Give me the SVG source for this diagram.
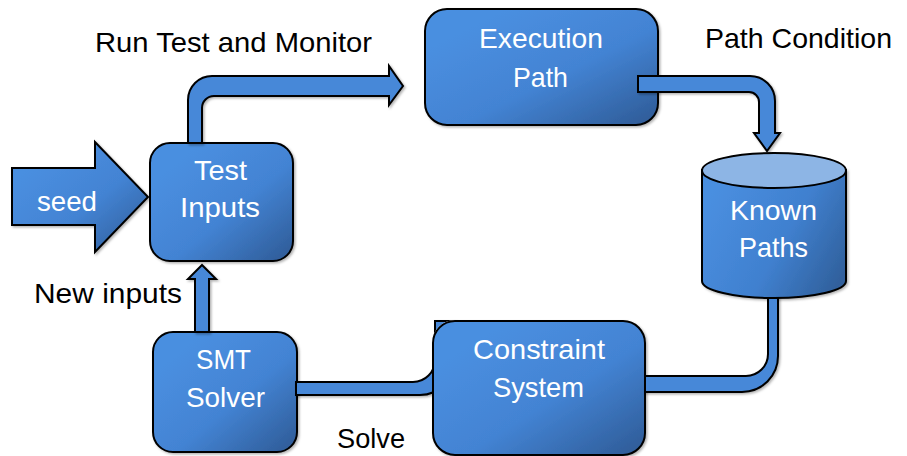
<svg xmlns="http://www.w3.org/2000/svg" width="907" height="456" viewBox="0 0 907 456">
  <style>
    .box { stroke: #000; stroke-width: 2; fill: url(#boxFill); filter: url(#shadow); }
    .conn { stroke: #000; stroke-width: 2; fill: #4788d8; stroke-linejoin: miter; filter: url(#shadow); }
    .label { font-family: "Liberation Sans", Arial, sans-serif; font-size: 28px; fill: #000; }
    .inner { font-family: "Liberation Sans", Arial, sans-serif; font-size: 28px; fill: #fff; }
  </style>
  <defs>
    <linearGradient id="boxFill" x1="0.15" y1="0.2" x2="0.95" y2="1">
      <stop offset="0" stop-color="#4a8fe0"/>
      <stop offset="0.5" stop-color="#4383d3"/>
      <stop offset="1" stop-color="#2f5c98"/>
    </linearGradient>
    <linearGradient id="cylFill" x1="0" y1="0.3" x2="1" y2="0.8">
      <stop offset="0" stop-color="#4a8fe0"/>
      <stop offset="0.55" stop-color="#4080cf"/>
      <stop offset="1" stop-color="#30609c"/>
    </linearGradient>
    <filter id="shadow" x="-10%" y="-10%" width="130%" height="130%">
      <feDropShadow dx="1.5" dy="1.5" stdDeviation="1" flood-color="#000" flood-opacity="0.3"/>
    </filter>
    <mask id="behindConstraint" maskUnits="userSpaceOnUse" x="0" y="0" width="907" height="456">
      <rect x="0" y="0" width="907" height="456" fill="#fff"/>
      <rect x="432" y="320" width="214" height="136" rx="23" fill="#000"/>
    </mask>
  </defs>

  <!-- nodes -->
  <g id="seed">
    <path d="M12,168 L95,168 L95,142 L148,197 L95,252 L95,225 L12,225 Z" fill="url(#boxFill)" stroke="#000" stroke-width="2" filter="url(#shadow)"/>
    <text class="inner" x="37" y="211" textLength="60" lengthAdjust="spacingAndGlyphs">seed</text>
  </g>

  <g id="test-inputs">
    <rect class="box" x="150" y="143" width="143" height="118" rx="20"/>
    <text class="inner" x="194" y="180" textLength="53" lengthAdjust="spacingAndGlyphs">Test</text>
    <text class="inner" x="180" y="217" textLength="80" lengthAdjust="spacingAndGlyphs">Inputs</text>
  </g>

  <g id="execution-path">
    <rect class="box" x="425" y="9" width="233" height="116" rx="22"/>
    <text class="inner" x="479" y="48" textLength="124" lengthAdjust="spacingAndGlyphs">Execution</text>
    <text class="inner" x="513" y="87" textLength="55" lengthAdjust="spacingAndGlyphs">Path</text>
  </g>

  <g id="known-paths">
    <path d="M702,170 L702,281 A72,17 0 0 0 846,281 L846,170 Z" fill="url(#cylFill)" stroke="#000" stroke-width="2" filter="url(#shadow)"/>
    <ellipse cx="774" cy="170.5" rx="72" ry="17.5" fill="#8db5e5" stroke="#000" stroke-width="2"/>
    <text class="inner" x="730" y="220" textLength="87" lengthAdjust="spacingAndGlyphs">Known</text>
    <text class="inner" x="739" y="257" textLength="69" lengthAdjust="spacingAndGlyphs">Paths</text>
  </g>

  <g id="constraint-system">
    <rect class="box" x="433" y="321" width="212" height="134" rx="22"/>
    <text class="inner" x="473" y="359" textLength="132" lengthAdjust="spacingAndGlyphs">Constraint</text>
    <text class="inner" x="493" y="397" textLength="91" lengthAdjust="spacingAndGlyphs">System</text>
  </g>

  <g id="smt-solver">
    <rect class="box" x="153" y="332" width="144" height="120" rx="20"/>
    <text class="inner" x="196" y="369" textLength="55" lengthAdjust="spacingAndGlyphs">SMT</text>
    <text class="inner" x="186" y="407" textLength="79" lengthAdjust="spacingAndGlyphs">Solver</text>
  </g>

  <!-- connectors -->
  <g id="connectors">
    <!-- Test Inputs -> Execution Path -->
    <path class="conn" d="M188,143 L188,100 A24,24 0 0 1 212,76 L389,76 L389,66 L403,86 L389,105 L389,96 L214,96 A12,12 0 0 0 202,108 L202,143 Z"/>
    <!-- Execution Path -> Known Paths -->
    <path class="conn" d="M638,76 L750,76 A25,25 0 0 1 775,101 L775,133 L780,133 L767,151 L754,133 L759,133 L759,102 A10,10 0 0 0 749,92 L638,92 Z"/>
    <!-- Known Paths -> Constraint System -->
    <path class="conn" d="M768,298 L778,298 L778,356 A36,36 0 0 1 742,392 L645,392 L645,376 L746,376 A22,22 0 0 0 768,354 Z"/>
    <!-- Constraint System <-> SMT Solver (runs behind the box) -->
    <path class="conn" mask="url(#behindConstraint)" d="M296,382 L413,382 A22,22 0 0 0 435,360 L435,321 L455,321 L455,360 A35,35 0 0 1 420,395 L296,395 Z"/>
    <!-- SMT Solver -> Test Inputs -->
    <path class="conn" d="M195,332 L195,279 L188,279 L202,265 L216,279 L209,279 L209,332 Z"/>
  </g>

  <!-- edge labels -->
  <g id="labels">
    <text class="label" x="95" y="52" textLength="277" lengthAdjust="spacingAndGlyphs">Run Test and Monitor</text>
    <text class="label" x="705" y="48" textLength="187" lengthAdjust="spacingAndGlyphs">Path Condition</text>
    <text class="label" x="34" y="303" textLength="148" lengthAdjust="spacingAndGlyphs">New inputs</text>
    <text class="label" x="337" y="448" textLength="68" lengthAdjust="spacingAndGlyphs">Solve</text>
  </g>
</svg>
